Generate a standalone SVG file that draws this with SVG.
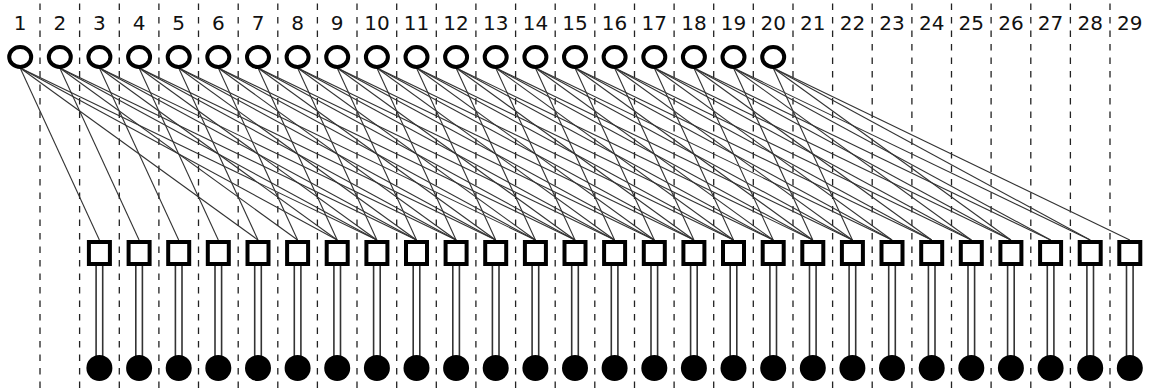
<svg xmlns="http://www.w3.org/2000/svg" width="1154" height="390" viewBox="0 0 1154 390">
<style>
.bg{fill:#fff}
.dash{stroke:#222;stroke-width:1.3;stroke-dasharray:6.5 7}
.lbl{font-family:"DejaVu Sans","Liberation Sans",sans-serif;font-size:20px;fill:#111;text-anchor:middle}
.edge{stroke:#333;stroke-width:1.1}
.bar{stroke:#333;stroke-width:1.6}
.var{fill:#fff;stroke:#000;stroke-width:4}
.chk{fill:#fff;stroke:#000;stroke-width:4}
.out{fill:#000}
</style>
<rect class="bg" x="0" y="0" width="1154" height="390"/>
<g id="grid">
<line class="dash" x1="40" y1="3.5" x2="40" y2="390"/>
<line class="dash" x1="79.6" y1="3.5" x2="79.6" y2="390"/>
<line class="dash" x1="119.3" y1="3.5" x2="119.3" y2="390"/>
<line class="dash" x1="158.9" y1="3.5" x2="158.9" y2="390"/>
<line class="dash" x1="198.5" y1="3.5" x2="198.5" y2="390"/>
<line class="dash" x1="238.2" y1="3.5" x2="238.2" y2="390"/>
<line class="dash" x1="277.8" y1="3.5" x2="277.8" y2="390"/>
<line class="dash" x1="317.4" y1="3.5" x2="317.4" y2="390"/>
<line class="dash" x1="357" y1="3.5" x2="357" y2="390"/>
<line class="dash" x1="396.7" y1="3.5" x2="396.7" y2="390"/>
<line class="dash" x1="436.3" y1="3.5" x2="436.3" y2="390"/>
<line class="dash" x1="475.9" y1="3.5" x2="475.9" y2="390"/>
<line class="dash" x1="515.6" y1="3.5" x2="515.6" y2="390"/>
<line class="dash" x1="555.2" y1="3.5" x2="555.2" y2="390"/>
<line class="dash" x1="594.8" y1="3.5" x2="594.8" y2="390"/>
<line class="dash" x1="634.5" y1="3.5" x2="634.5" y2="390"/>
<line class="dash" x1="674.1" y1="3.5" x2="674.1" y2="390"/>
<line class="dash" x1="713.7" y1="3.5" x2="713.7" y2="390"/>
<line class="dash" x1="753.3" y1="3.5" x2="753.3" y2="390"/>
<line class="dash" x1="793" y1="3.5" x2="793" y2="390"/>
<line class="dash" x1="832.6" y1="3.5" x2="832.6" y2="390"/>
<line class="dash" x1="872.2" y1="3.5" x2="872.2" y2="390"/>
<line class="dash" x1="911.9" y1="3.5" x2="911.9" y2="390"/>
<line class="dash" x1="951.5" y1="3.5" x2="951.5" y2="390"/>
<line class="dash" x1="991.1" y1="3.5" x2="991.1" y2="390"/>
<line class="dash" x1="1030.8" y1="3.5" x2="1030.8" y2="390"/>
<line class="dash" x1="1070.4" y1="3.5" x2="1070.4" y2="390"/>
<line class="dash" x1="1110" y1="3.5" x2="1110" y2="390"/>
</g>
<g id="labels">
<text class="lbl" x="20.2" y="30">1</text>
<text class="lbl" x="59.8" y="30">2</text>
<text class="lbl" x="99.4" y="30">3</text>
<text class="lbl" x="139.1" y="30">4</text>
<text class="lbl" x="178.7" y="30">5</text>
<text class="lbl" x="218.3" y="30">6</text>
<text class="lbl" x="258" y="30">7</text>
<text class="lbl" x="297.6" y="30">8</text>
<text class="lbl" x="337.2" y="30">9</text>
<text class="lbl" x="376.9" y="30">10</text>
<text class="lbl" x="416.5" y="30">11</text>
<text class="lbl" x="456.1" y="30">12</text>
<text class="lbl" x="495.7" y="30">13</text>
<text class="lbl" x="535.4" y="30">14</text>
<text class="lbl" x="575" y="30">15</text>
<text class="lbl" x="614.6" y="30">16</text>
<text class="lbl" x="654.3" y="30">17</text>
<text class="lbl" x="693.9" y="30">18</text>
<text class="lbl" x="733.5" y="30">19</text>
<text class="lbl" x="773.2" y="30">20</text>
<text class="lbl" x="812.8" y="30">21</text>
<text class="lbl" x="852.4" y="30">22</text>
<text class="lbl" x="892" y="30">23</text>
<text class="lbl" x="931.7" y="30">24</text>
<text class="lbl" x="971.3" y="30">25</text>
<text class="lbl" x="1010.9" y="30">26</text>
<text class="lbl" x="1050.6" y="30">27</text>
<text class="lbl" x="1090.2" y="30">28</text>
<text class="lbl" x="1129.8" y="30">29</text>
</g>
<g id="connectors">
<line class="edge" x1="20.2" y1="68" x2="99.4" y2="240"/>
<line class="edge" x1="20.2" y1="68" x2="258" y2="240"/>
<line class="edge" x1="20.2" y1="68" x2="337.2" y2="240"/>
<line class="edge" x1="20.2" y1="68" x2="376.9" y2="240"/>
<line class="edge" x1="59.8" y1="68" x2="139.1" y2="240"/>
<line class="edge" x1="59.8" y1="68" x2="297.6" y2="240"/>
<line class="edge" x1="59.8" y1="68" x2="376.9" y2="240"/>
<line class="edge" x1="59.8" y1="68" x2="416.5" y2="240"/>
<line class="edge" x1="99.4" y1="68" x2="178.7" y2="240"/>
<line class="edge" x1="99.4" y1="68" x2="337.2" y2="240"/>
<line class="edge" x1="99.4" y1="68" x2="416.5" y2="240"/>
<line class="edge" x1="99.4" y1="68" x2="456.1" y2="240"/>
<line class="edge" x1="139.1" y1="68" x2="218.3" y2="240"/>
<line class="edge" x1="139.1" y1="68" x2="376.9" y2="240"/>
<line class="edge" x1="139.1" y1="68" x2="456.1" y2="240"/>
<line class="edge" x1="139.1" y1="68" x2="495.7" y2="240"/>
<line class="edge" x1="178.7" y1="68" x2="258" y2="240"/>
<line class="edge" x1="178.7" y1="68" x2="416.5" y2="240"/>
<line class="edge" x1="178.7" y1="68" x2="495.7" y2="240"/>
<line class="edge" x1="178.7" y1="68" x2="535.4" y2="240"/>
<line class="edge" x1="218.3" y1="68" x2="297.6" y2="240"/>
<line class="edge" x1="218.3" y1="68" x2="456.1" y2="240"/>
<line class="edge" x1="218.3" y1="68" x2="535.4" y2="240"/>
<line class="edge" x1="218.3" y1="68" x2="575" y2="240"/>
<line class="edge" x1="258" y1="68" x2="337.2" y2="240"/>
<line class="edge" x1="258" y1="68" x2="495.7" y2="240"/>
<line class="edge" x1="258" y1="68" x2="575" y2="240"/>
<line class="edge" x1="258" y1="68" x2="614.6" y2="240"/>
<line class="edge" x1="297.6" y1="68" x2="376.9" y2="240"/>
<line class="edge" x1="297.6" y1="68" x2="535.4" y2="240"/>
<line class="edge" x1="297.6" y1="68" x2="614.6" y2="240"/>
<line class="edge" x1="297.6" y1="68" x2="654.3" y2="240"/>
<line class="edge" x1="337.2" y1="68" x2="416.5" y2="240"/>
<line class="edge" x1="337.2" y1="68" x2="575" y2="240"/>
<line class="edge" x1="337.2" y1="68" x2="654.3" y2="240"/>
<line class="edge" x1="337.2" y1="68" x2="693.9" y2="240"/>
<line class="edge" x1="376.9" y1="68" x2="456.1" y2="240"/>
<line class="edge" x1="376.9" y1="68" x2="614.6" y2="240"/>
<line class="edge" x1="376.9" y1="68" x2="693.9" y2="240"/>
<line class="edge" x1="376.9" y1="68" x2="733.5" y2="240"/>
<line class="edge" x1="416.5" y1="68" x2="495.7" y2="240"/>
<line class="edge" x1="416.5" y1="68" x2="654.3" y2="240"/>
<line class="edge" x1="416.5" y1="68" x2="733.5" y2="240"/>
<line class="edge" x1="416.5" y1="68" x2="773.2" y2="240"/>
<line class="edge" x1="456.1" y1="68" x2="535.4" y2="240"/>
<line class="edge" x1="456.1" y1="68" x2="693.9" y2="240"/>
<line class="edge" x1="456.1" y1="68" x2="773.2" y2="240"/>
<line class="edge" x1="456.1" y1="68" x2="812.8" y2="240"/>
<line class="edge" x1="495.7" y1="68" x2="575" y2="240"/>
<line class="edge" x1="495.7" y1="68" x2="733.5" y2="240"/>
<line class="edge" x1="495.7" y1="68" x2="812.8" y2="240"/>
<line class="edge" x1="495.7" y1="68" x2="852.4" y2="240"/>
<line class="edge" x1="535.4" y1="68" x2="614.6" y2="240"/>
<line class="edge" x1="535.4" y1="68" x2="773.2" y2="240"/>
<line class="edge" x1="535.4" y1="68" x2="852.4" y2="240"/>
<line class="edge" x1="535.4" y1="68" x2="892" y2="240"/>
<line class="edge" x1="575" y1="68" x2="654.3" y2="240"/>
<line class="edge" x1="575" y1="68" x2="812.8" y2="240"/>
<line class="edge" x1="575" y1="68" x2="892" y2="240"/>
<line class="edge" x1="575" y1="68" x2="931.7" y2="240"/>
<line class="edge" x1="614.6" y1="68" x2="693.9" y2="240"/>
<line class="edge" x1="614.6" y1="68" x2="852.4" y2="240"/>
<line class="edge" x1="614.6" y1="68" x2="931.7" y2="240"/>
<line class="edge" x1="614.6" y1="68" x2="971.3" y2="240"/>
<line class="edge" x1="654.3" y1="68" x2="733.5" y2="240"/>
<line class="edge" x1="654.3" y1="68" x2="892" y2="240"/>
<line class="edge" x1="654.3" y1="68" x2="971.3" y2="240"/>
<line class="edge" x1="654.3" y1="68" x2="1010.9" y2="240"/>
<line class="edge" x1="693.9" y1="68" x2="773.2" y2="240"/>
<line class="edge" x1="693.9" y1="68" x2="931.7" y2="240"/>
<line class="edge" x1="693.9" y1="68" x2="1010.9" y2="240"/>
<line class="edge" x1="693.9" y1="68" x2="1050.6" y2="240"/>
<line class="edge" x1="733.5" y1="68" x2="812.8" y2="240"/>
<line class="edge" x1="733.5" y1="68" x2="971.3" y2="240"/>
<line class="edge" x1="733.5" y1="68" x2="1050.6" y2="240"/>
<line class="edge" x1="733.5" y1="68" x2="1090.2" y2="240"/>
<line class="edge" x1="773.2" y1="68" x2="852.4" y2="240"/>
<line class="edge" x1="773.2" y1="68" x2="1010.9" y2="240"/>
<line class="edge" x1="773.2" y1="68" x2="1090.2" y2="240"/>
<line class="edge" x1="773.2" y1="68" x2="1129.8" y2="240"/>
<path class="bar" d="M96.1 266V356M102.7 266V356M135.8 266V356M142.4 266V356M175.4 266V356M182 266V356M215 266V356M221.6 266V356M254.7 266V356M261.3 266V356M294.3 266V356M300.9 266V356M333.9 266V356M340.5 266V356M373.6 266V356M380.2 266V356M413.2 266V356M419.8 266V356M452.8 266V356M459.4 266V356M492.4 266V356M499 266V356M532.1 266V356M538.7 266V356M571.7 266V356M578.3 266V356M611.3 266V356M617.9 266V356M651 266V356M657.6 266V356M690.6 266V356M697.2 266V356M730.2 266V356M736.8 266V356M769.9 266V356M776.5 266V356M809.5 266V356M816.1 266V356M849.1 266V356M855.7 266V356M888.7 266V356M895.3 266V356M928.4 266V356M935 266V356M968 266V356M974.6 266V356M1007.6 266V356M1014.2 266V356M1047.3 266V356M1053.9 266V356M1086.9 266V356M1093.5 266V356M1126.5 266V356M1133.1 266V356"/>
</g>
<g id="v1"><ellipse class="var" cx="20.2" cy="57" rx="11" ry="10"/></g>
<g id="v2"><ellipse class="var" cx="59.8" cy="57" rx="11" ry="10"/></g>
<g id="v3"><ellipse class="var" cx="99.4" cy="57" rx="11" ry="10"/></g>
<g id="v4"><ellipse class="var" cx="139.1" cy="57" rx="11" ry="10"/></g>
<g id="v5"><ellipse class="var" cx="178.7" cy="57" rx="11" ry="10"/></g>
<g id="v6"><ellipse class="var" cx="218.3" cy="57" rx="11" ry="10"/></g>
<g id="v7"><ellipse class="var" cx="258" cy="57" rx="11" ry="10"/></g>
<g id="v8"><ellipse class="var" cx="297.6" cy="57" rx="11" ry="10"/></g>
<g id="v9"><ellipse class="var" cx="337.2" cy="57" rx="11" ry="10"/></g>
<g id="v10"><ellipse class="var" cx="376.9" cy="57" rx="11" ry="10"/></g>
<g id="v11"><ellipse class="var" cx="416.5" cy="57" rx="11" ry="10"/></g>
<g id="v12"><ellipse class="var" cx="456.1" cy="57" rx="11" ry="10"/></g>
<g id="v13"><ellipse class="var" cx="495.7" cy="57" rx="11" ry="10"/></g>
<g id="v14"><ellipse class="var" cx="535.4" cy="57" rx="11" ry="10"/></g>
<g id="v15"><ellipse class="var" cx="575" cy="57" rx="11" ry="10"/></g>
<g id="v16"><ellipse class="var" cx="614.6" cy="57" rx="11" ry="10"/></g>
<g id="v17"><ellipse class="var" cx="654.3" cy="57" rx="11" ry="10"/></g>
<g id="v18"><ellipse class="var" cx="693.9" cy="57" rx="11" ry="10"/></g>
<g id="v19"><ellipse class="var" cx="733.5" cy="57" rx="11" ry="10"/></g>
<g id="v20"><ellipse class="var" cx="773.2" cy="57" rx="11" ry="10"/></g>
<g id="c3"><rect class="chk" x="88.9" y="242" width="21" height="22"/></g>
<g id="c4"><rect class="chk" x="128.6" y="242" width="21" height="22"/></g>
<g id="c5"><rect class="chk" x="168.2" y="242" width="21" height="22"/></g>
<g id="c6"><rect class="chk" x="207.8" y="242" width="21" height="22"/></g>
<g id="c7"><rect class="chk" x="247.5" y="242" width="21" height="22"/></g>
<g id="c8"><rect class="chk" x="287.1" y="242" width="21" height="22"/></g>
<g id="c9"><rect class="chk" x="326.7" y="242" width="21" height="22"/></g>
<g id="c10"><rect class="chk" x="366.4" y="242" width="21" height="22"/></g>
<g id="c11"><rect class="chk" x="406" y="242" width="21" height="22"/></g>
<g id="c12"><rect class="chk" x="445.6" y="242" width="21" height="22"/></g>
<g id="c13"><rect class="chk" x="485.2" y="242" width="21" height="22"/></g>
<g id="c14"><rect class="chk" x="524.9" y="242" width="21" height="22"/></g>
<g id="c15"><rect class="chk" x="564.5" y="242" width="21" height="22"/></g>
<g id="c16"><rect class="chk" x="604.1" y="242" width="21" height="22"/></g>
<g id="c17"><rect class="chk" x="643.8" y="242" width="21" height="22"/></g>
<g id="c18"><rect class="chk" x="683.4" y="242" width="21" height="22"/></g>
<g id="c19"><rect class="chk" x="723" y="242" width="21" height="22"/></g>
<g id="c20"><rect class="chk" x="762.7" y="242" width="21" height="22"/></g>
<g id="c21"><rect class="chk" x="802.3" y="242" width="21" height="22"/></g>
<g id="c22"><rect class="chk" x="841.9" y="242" width="21" height="22"/></g>
<g id="c23"><rect class="chk" x="881.5" y="242" width="21" height="22"/></g>
<g id="c24"><rect class="chk" x="921.2" y="242" width="21" height="22"/></g>
<g id="c25"><rect class="chk" x="960.8" y="242" width="21" height="22"/></g>
<g id="c26"><rect class="chk" x="1000.4" y="242" width="21" height="22"/></g>
<g id="c27"><rect class="chk" x="1040.1" y="242" width="21" height="22"/></g>
<g id="c28"><rect class="chk" x="1079.7" y="242" width="21" height="22"/></g>
<g id="c29"><rect class="chk" x="1119.3" y="242" width="21" height="22"/></g>
<g id="b3"><circle class="out" cx="99.4" cy="368" r="13"/></g>
<g id="b4"><circle class="out" cx="139.1" cy="368" r="13"/></g>
<g id="b5"><circle class="out" cx="178.7" cy="368" r="13"/></g>
<g id="b6"><circle class="out" cx="218.3" cy="368" r="13"/></g>
<g id="b7"><circle class="out" cx="258" cy="368" r="13"/></g>
<g id="b8"><circle class="out" cx="297.6" cy="368" r="13"/></g>
<g id="b9"><circle class="out" cx="337.2" cy="368" r="13"/></g>
<g id="b10"><circle class="out" cx="376.9" cy="368" r="13"/></g>
<g id="b11"><circle class="out" cx="416.5" cy="368" r="13"/></g>
<g id="b12"><circle class="out" cx="456.1" cy="368" r="13"/></g>
<g id="b13"><circle class="out" cx="495.7" cy="368" r="13"/></g>
<g id="b14"><circle class="out" cx="535.4" cy="368" r="13"/></g>
<g id="b15"><circle class="out" cx="575" cy="368" r="13"/></g>
<g id="b16"><circle class="out" cx="614.6" cy="368" r="13"/></g>
<g id="b17"><circle class="out" cx="654.3" cy="368" r="13"/></g>
<g id="b18"><circle class="out" cx="693.9" cy="368" r="13"/></g>
<g id="b19"><circle class="out" cx="733.5" cy="368" r="13"/></g>
<g id="b20"><circle class="out" cx="773.2" cy="368" r="13"/></g>
<g id="b21"><circle class="out" cx="812.8" cy="368" r="13"/></g>
<g id="b22"><circle class="out" cx="852.4" cy="368" r="13"/></g>
<g id="b23"><circle class="out" cx="892" cy="368" r="13"/></g>
<g id="b24"><circle class="out" cx="931.7" cy="368" r="13"/></g>
<g id="b25"><circle class="out" cx="971.3" cy="368" r="13"/></g>
<g id="b26"><circle class="out" cx="1010.9" cy="368" r="13"/></g>
<g id="b27"><circle class="out" cx="1050.6" cy="368" r="13"/></g>
<g id="b28"><circle class="out" cx="1090.2" cy="368" r="13"/></g>
<g id="b29"><circle class="out" cx="1129.8" cy="368" r="13"/></g>
</svg>
